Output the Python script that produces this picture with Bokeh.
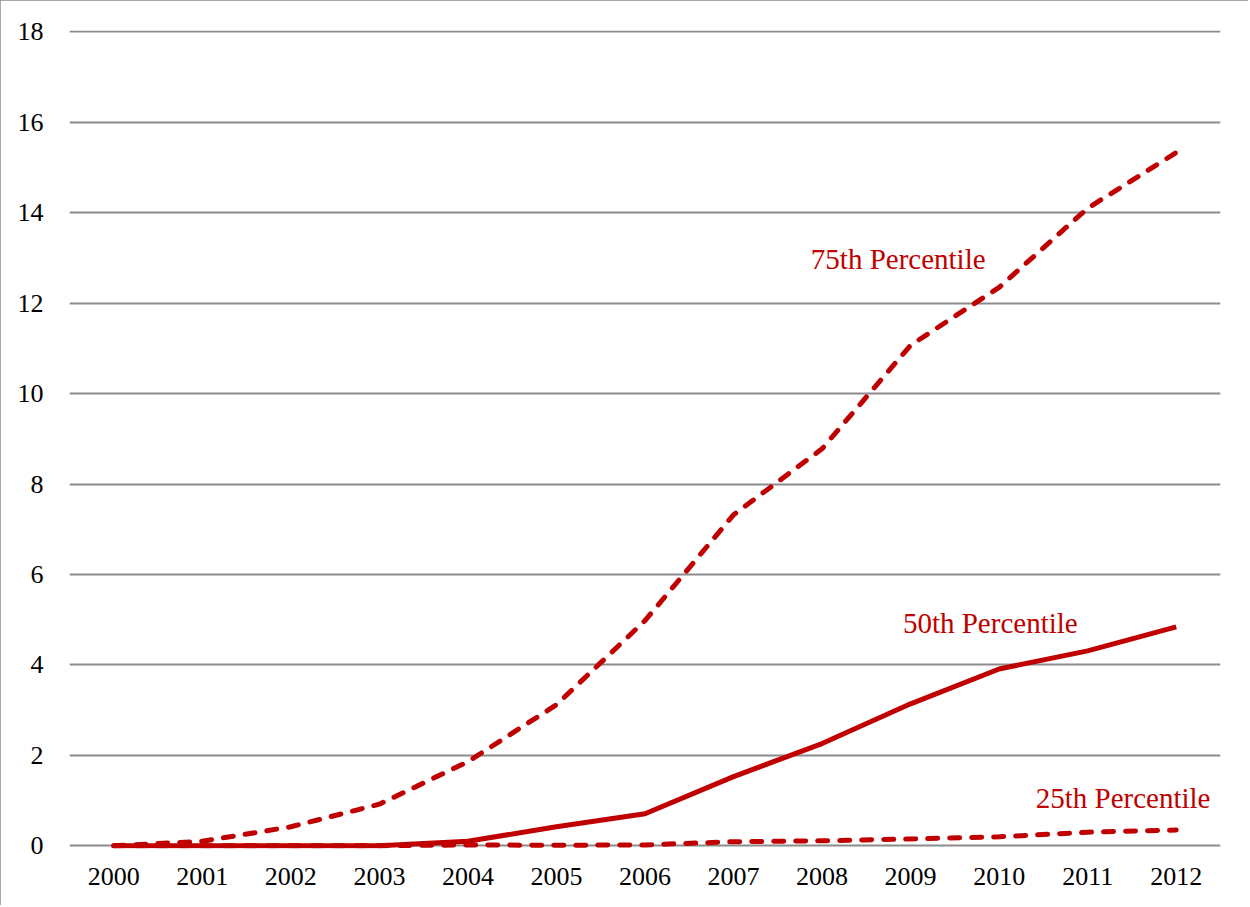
from bokeh.plotting import figure
from bokeh.models import Range1d, FactorRange, Label, SingleIntervalTicker
from bokeh.embed import file_html
from bokeh.resources import INLINE

years = ["2000", "2001", "2002", "2003", "2004", "2005", "2006",
         "2007", "2008", "2009", "2010", "2011", "2012"]
p75 = [0.0, 0.1, 0.42, 0.92, 1.86, 3.12, 4.98, 7.32, 8.78, 11.07, 12.35, 14.1, 15.33]
p50 = [0.0, 0.0, 0.0, 0.0, 0.1, 0.42, 0.71, 1.53, 2.26, 3.14, 3.91, 4.31, 4.84]
p25 = [0.0, 0.0, 0.0, 0.0, 0.02, 0.01, 0.02, 0.09, 0.11, 0.15, 0.2, 0.3, 0.35]

series_labels = ["75th Percentile", "50th Percentile", "25th Percentile"]

RED = "#C00000"
FONT = "Liberation Serif"

p = figure(x_range=FactorRange(*years), y_range=Range1d(-0.06, 18.03),
           frame_width=1151, frame_height=818,
           min_border_left=69, min_border_right=28,
           min_border_top=30, min_border_bottom=57,
           output_backend="svg", toolbar_location=None,
           background_fill_color="white", border_fill_color="white")
p.styles = {"outline": "2px solid #8c8c8c", "outline-offset": "-2px"}
p.outline_line_color = None

p.xgrid.grid_line_color = None
p.ygrid.grid_line_color = "#8c8c8c"
p.ygrid.grid_line_width = 1.8
p.yaxis.ticker = SingleIntervalTicker(interval=2)

for ax in (p.xaxis, p.yaxis):
    ax.axis_line_color = None
    ax.major_tick_line_color = None
    ax.minor_tick_line_color = None
    ax.major_tick_out = 0
    ax.major_tick_in = 0
    ax.major_label_text_font = FONT
    ax.major_label_text_font_size = "26px"
    ax.major_label_text_color = "black"
p.yaxis.major_label_standoff = 22
p.xaxis.major_label_standoff = 19

p.line(years, p75, line_color=RED, line_width=5, line_dash="10 12", line_cap="round")
p.line(years, p50, line_color=RED, line_width=5, line_join="round")
p.line(years, p25, line_color=RED, line_width=5, line_dash="10 12", line_cap="round")

label_pos = [(9.36, 12.98), (10.40, 4.93), (11.90, 1.06)]
for txt, (lx, ly) in zip(series_labels, label_pos):
    p.add_layout(Label(x=lx, y=ly, text=txt, text_align="center", text_baseline="middle",
                       text_font=FONT, text_font_size="29px", text_color=RED))

open("out.html", "w").write(file_html(p, INLINE))
